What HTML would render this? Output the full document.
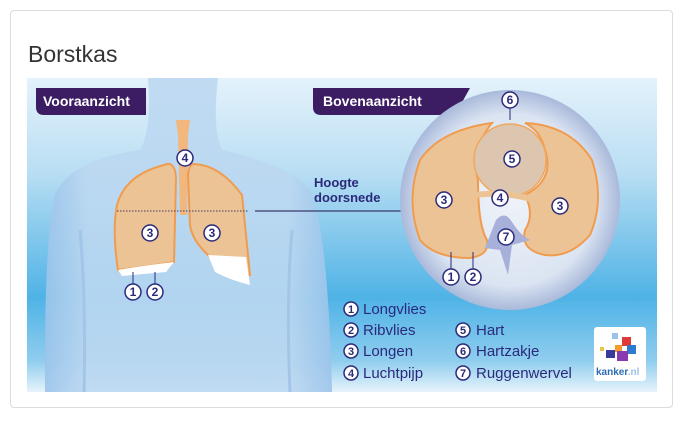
<!DOCTYPE html>
<html><head><meta charset="utf-8"><style>
html,body{margin:0;padding:0;background:#fff;width:685px;height:421px;overflow:hidden}
.card{position:absolute;left:10px;top:10px;width:663px;height:398px;border:1px solid #dcdcdc;border-radius:4px;box-sizing:border-box}
h1{position:absolute;left:28px;top:41px;margin:0;font:400 23px "Liberation Sans",sans-serif;color:#333}
svg{position:absolute;left:0;top:0}
</style></head><body>
<div class="card"></div>
<h1>Borstkas</h1>
<svg width="685" height="421" viewBox="0 0 685 421" font-family="Liberation Sans, sans-serif">
<defs>
<linearGradient id="bg" x1="0" y1="0" x2="0" y2="1">
<stop offset="0" stop-color="#e4f2fb"/><stop offset="0.3" stop-color="#b9def3"/><stop offset="0.7" stop-color="#4fb3e6"/><stop offset="0.9" stop-color="#8fcdee"/><stop offset="1" stop-color="#e6f3fb"/></linearGradient>
<radialGradient id="circ" cx="0.5" cy="0.5" r="0.5"><stop offset="0" stop-color="#eef3f9"/><stop offset="0.78" stop-color="#dbe4f2"/><stop offset="1" stop-color="#a9b9da"/></radialGradient>
<linearGradient id="body" x1="0" y1="0" x2="1" y2="0"><stop offset="0" stop-color="#9cc4ea"/><stop offset="0.15" stop-color="#bcd8f1"/><stop offset="0.85" stop-color="#bcd8f1"/><stop offset="1" stop-color="#9cc4ea"/></linearGradient>
</defs>
<rect x="27" y="78" width="630" height="314" fill="url(#bg)"/>
<!-- body -->
<path d="M148 78 L218 78 Q212 130 222 150 Q290 165 310 190 Q328 230 332 392 L45 392 Q44 240 55 195 Q70 160 140 150 Q152 130 148 78Z" fill="url(#body)" opacity="0.9"/>
<path d="M80 230 Q86 300 84 392 M292 230 Q286 300 290 392" stroke="#a3c6e8" stroke-width="3" fill="none"/>
<!-- trachea -->
<path d="M176 120 L190 120 L188 135 L187 215 L180 215 L178 135Z" fill="#f2b77c"/>
<!-- left lung -->
<path d="M164 165 Q175 160 176 178 L174 262 Q150 266 118 270 Q112 230 117 205 Q125 175 164 165Z" fill="#ecc395" stroke="#f09c4f" stroke-width="2"/>
<path d="M118 270 Q140 266 174 262 L166 272 L122 276Z" fill="#fff"/>
<!-- right lung -->
<path d="M194 164 Q220 165 242 195 L250 275 L220 270 L208 255 Q192 240 190 225 L188 175 Q189 164 194 164Z" fill="#ecc395" stroke="#f09c4f" stroke-width="2"/>
<path d="M208 255 L246 257 L250 285 Q230 280 215 272Z" fill="#fff"/>
<!-- section line -->
<line x1="117" y1="211" x2="248" y2="211" stroke="#4a3a5a" stroke-width="1" stroke-dasharray="1.5,1.5"/>
<line x1="255" y1="211" x2="408" y2="211" stroke="#3a3a6a" stroke-width="1.2"/>
<path d="M402 206 L410 211 L402 216" fill="none" stroke="#3a3a6a" stroke-width="1.2"/>
<text x="314" y="187" font-size="13" font-weight="bold" fill="#2b2a7a">Hoogte</text>
<text x="314" y="202" font-size="13" font-weight="bold" fill="#2b2a7a">doorsnede</text>
<!-- tabs -->
<path d="M36 88 L146 88 L146 115 L44 115 Q36 115 36 107Z" fill="#3c1d63"/>
<text x="43" y="106" font-size="14" font-weight="bold" fill="#fff">Vooraanzicht</text>
<path d="M313 88 L470 88 L455 115 L321 115 Q313 115 313 107Z" fill="#3c1d63"/>
<text x="323" y="106" font-size="14" font-weight="bold" fill="#fff">Bovenaanzicht</text>
<!-- circle -->
<circle cx="510" cy="200" r="110" fill="url(#circ)"/>
<path d="M492 123 Q440 130 420 160 Q405 200 420 240 Q435 258 470 258 Q490 255 487 240 Q478 225 478 180 Q470 150 492 123Z" fill="#ecc395" stroke="#f09c4f" stroke-width="2"/>
<path d="M525 123 Q570 125 592 160 Q605 200 590 235 Q570 258 545 255 Q520 250 525 230 Q535 215 525 195 Q555 180 545 150 Q540 130 525 123Z" fill="#ecc395" stroke="#f09c4f" stroke-width="2"/>
<ellipse cx="510" cy="160" rx="36" ry="36" fill="#dcc6b0" stroke="#f0a860" stroke-width="1.5"/>
<path d="M470 196 Q500 190 535 200" stroke="#ecc395" stroke-width="6" fill="none"/>
<path d="M496 220 Q505 210 512 222 Q520 235 530 240 L512 245 L508 275 L500 250 L485 248Z" fill="#a7b0d8"/>
<!-- number circles -->
<g font-size="12" font-weight="bold" fill="#2b2a7a" text-anchor="middle">
<g stroke="#2b2a7a" stroke-width="1.5" fill="#fff">
<circle cx="185" cy="158" r="8"/><circle cx="150" cy="233" r="8"/><circle cx="212" cy="233" r="8"/>
<circle cx="133" cy="292" r="8"/><circle cx="155" cy="292" r="8"/>
<circle cx="510" cy="100" r="8"/><circle cx="512" cy="159" r="8"/><circle cx="444" cy="200" r="8"/>
<circle cx="560" cy="206" r="8"/><circle cx="500" cy="198" r="8"/><circle cx="506" cy="237" r="8"/>
<circle cx="451" cy="277" r="8"/><circle cx="473" cy="277" r="8"/>
</g>
<g stroke="#2b2a7a" stroke-width="1"><line x1="133" y1="284" x2="133" y2="272"/><line x1="155" y1="284" x2="155" y2="272"/>
<line x1="510" y1="108" x2="510" y2="120"/><line x1="451" y1="269" x2="451" y2="252"/><line x1="473" y1="269" x2="473" y2="252"/></g>
<text x="185" y="162">4</text><text x="150" y="237">3</text><text x="212" y="237">3</text>
<text x="133" y="296">1</text><text x="155" y="296">2</text>
<text x="510" y="104">6</text><text x="512" y="163">5</text><text x="444" y="204">3</text>
<text x="560" y="210">3</text><text x="500" y="202">4</text><text x="506" y="241">7</text>
<text x="451" y="281">1</text><text x="473" y="281">2</text>
</g>
<!-- legend -->
<g font-size="15" fill="#2b2a7a">
<g stroke="#2b2a7a" stroke-width="1.5" fill="#fff">
<circle cx="351" cy="309" r="7"/><circle cx="351" cy="330" r="7"/><circle cx="351" cy="351" r="7"/><circle cx="351" cy="373" r="7"/>
<circle cx="463" cy="330" r="7"/><circle cx="463" cy="351" r="7"/><circle cx="463" cy="373" r="7"/>
</g>
<g font-size="11" font-weight="bold" text-anchor="middle">
<text x="351" y="313">1</text><text x="351" y="334">2</text><text x="351" y="355">3</text><text x="351" y="377">4</text>
<text x="463" y="334">5</text><text x="463" y="355">6</text><text x="463" y="377">7</text></g>
<text x="363" y="314">Longvlies</text><text x="363" y="335">Ribvlies</text><text x="363" y="356">Longen</text><text x="363" y="378">Luchtpijp</text>
<text x="476" y="335">Hart</text><text x="476" y="356">Hartzakje</text><text x="476" y="378">Ruggenwervel</text>
</g>
<!-- logo -->
<rect x="594" y="327" width="52" height="54" rx="3" fill="#fff"/>
<rect x="612" y="333" width="6" height="6" fill="#9cc3ea"/><rect x="622" y="337" width="9" height="9" fill="#e03a3a"/>
<rect x="615" y="345" width="7" height="7" fill="#f39b2e"/><rect x="627" y="345" width="9" height="9" fill="#2d7ad1"/>
<rect x="606" y="350" width="9" height="8" fill="#3a3a9a"/><rect x="617" y="351" width="11" height="10" fill="#8a3ab0"/><rect x="600" y="347" width="4" height="4" fill="#e6c34a"/>
<text x="596" y="375" font-size="10" font-weight="bold" fill="#2b6cb0">kanker<tspan fill="#9cc3ea">.nl</tspan></text>
</svg>
</body></html>
